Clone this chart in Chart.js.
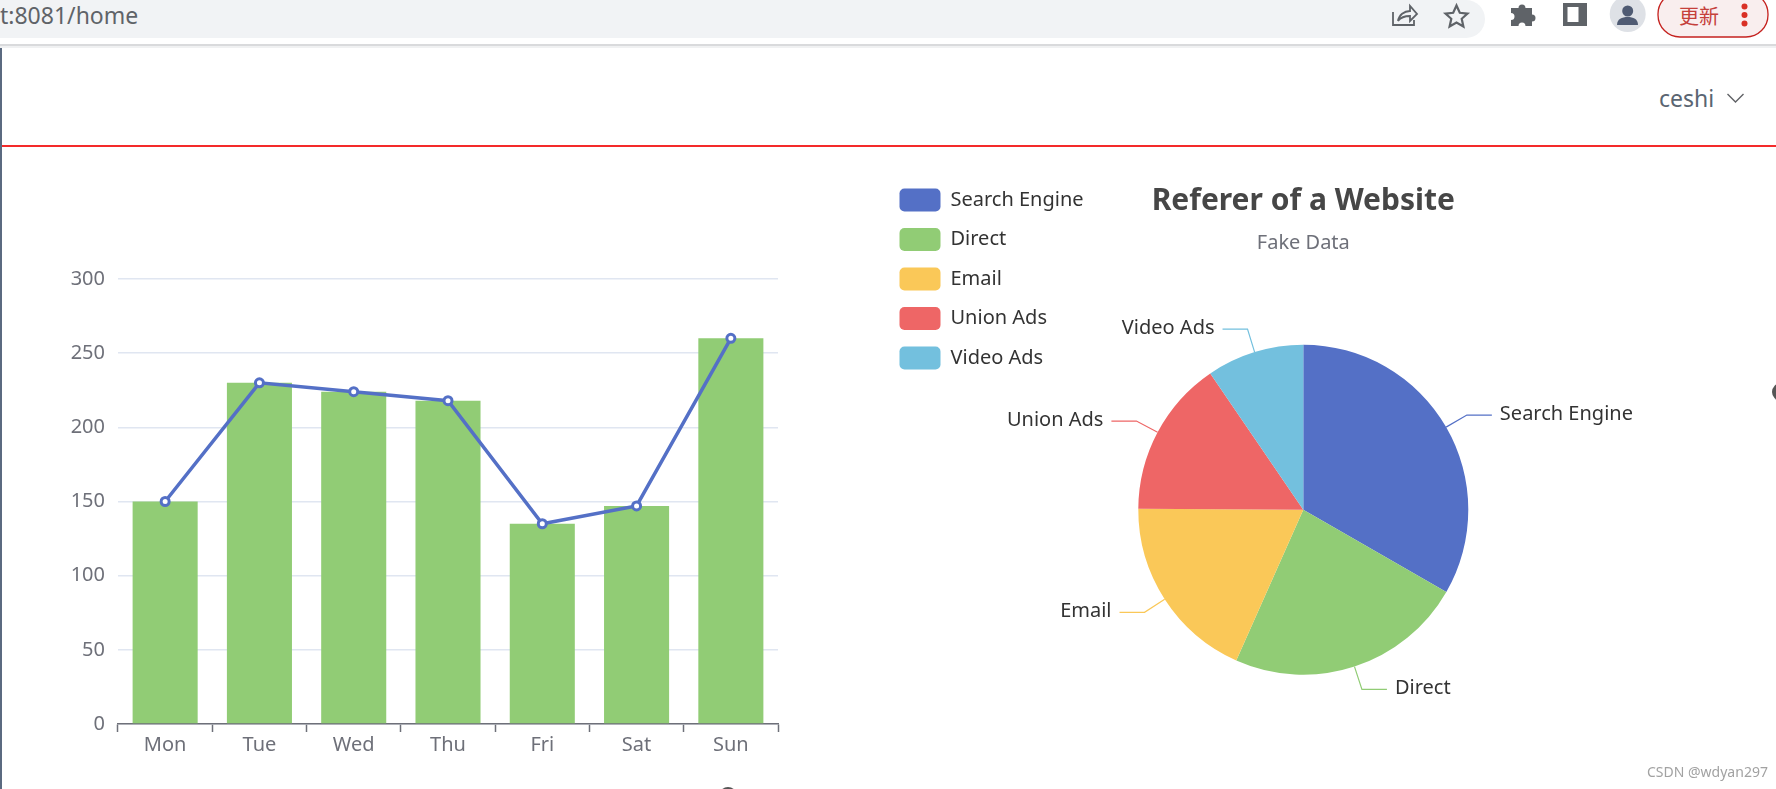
<!DOCTYPE html>
<html><head><meta charset="utf-8">
<script src="https://cdn.jsdelivr.net/npm/chart.js@4"></script>
<style>
html,body{margin:0;padding:0;background:#fff;overflow:hidden}
#page{position:relative;width:1776px;height:789px;overflow:hidden;font-family:"Noto Sans",sans-serif}
.abs{position:absolute}
canvas{position:absolute;display:block}
</style></head><body>
<div id="page">
  <div class="abs" style="left:0;top:0;width:1485px;height:38px;background:#f1f3f5;border-radius:0 19px 19px 0"></div>
  <div class="abs" style="left:0;top:-3px;font-size:23px;line-height:36px;color:#5f6368;white-space:nowrap">t:8081/home</div>
  <div class="abs" style="left:0;top:44px;width:1776px;height:2px;background:#d9dadc"></div>
  <div class="abs" style="left:0;top:46px;width:1776px;height:2px;background:#f0f1f2"></div>
  <div class="abs" style="left:0;top:48px;width:2px;height:741px;background:#5b6a80"></div>
  <div class="abs" style="left:2px;top:145px;width:1774px;height:2px;background:#f42a2a"></div>
  <svg class="abs" style="left:1376px;top:0" width="400" height="48" viewBox="0 0 400 48">
    <g fill="none" stroke="#5f6368" stroke-width="1.8">
      <path d="M17 12v13h21v-5"/><path d="M22 21c1-6 6-10 12-10V6l7 8-7 7v-5c-5 0-9 1-12 5z"/>
      <path d="M80.500 5.500l3.300 7.300 7.700.8-5.800 5.200 1.700 7.700-6.900-4-6.900 4 1.700-7.700-5.800-5.200 7.700-.8z" stroke-width="2.200"/>
    </g>
    <path fill="#5f6368" d="M135 8h7.500a3.500 3.500 0 0 1 7 0h6.500v6.500a3.500 3.500 0 0 1 0 7V26h-6.500a3.500 3.500 0 0 0-7 0H135v-6a3.500 3.500 0 0 0 0-7z"/>
    <path fill="#5f6368" fill-rule="evenodd" d="M187 3h24v23h-24zM191.500 7v15h11V7z"/>
    <circle cx="251.700" cy="14" r="18" fill="#dee1e6"/>
    <circle cx="251.700" cy="11" r="5.500" fill="#4f5b73"/>
    <path fill="#4f5b73" d="M241 25c0-6 5-8 10.700-8s10.300 2 10.300 8z"/>
    <rect x="282" y="-8" width="110" height="45" rx="22" fill="#f9eeee" stroke="#c5221f" stroke-width="1.300"/>
    <circle cx="368.500" cy="6.500" r="3" fill="#d93025"/><circle cx="368.500" cy="15" r="3" fill="#d93025"/><circle cx="368.500" cy="23.500" r="3" fill="#d93025"/>
    </svg>
  <div class="abs" style="left:1679px;top:1px;font-family:'Noto Sans CJK SC';font-size:20px;line-height:30px;color:#c5403a">更新</div>
  <div class="abs" style="left:1659px;top:82px;font-size:23px;line-height:32px;color:#5a6572">ceshi</div>
  <svg class="abs" style="left:1725px;top:90px" width="22" height="16"><path d="M2.500 4l8 8 8-8" fill="none" stroke="#606266" stroke-width="1.400"/></svg>
  <div class="abs" style="left:1772px;top:382.500px;width:18px;height:18px;border-radius:50%;background:#555"></div>
  <div class="abs" style="left:719px;top:787px;width:18px;height:18px;border-radius:50%;background:#555"></div>
  <canvas id="bars" width="800" height="539" style="left:0;top:250px;width:800px;height:539px"></canvas>
  <canvas id="pie" width="846" height="620" style="left:883px;top:160px;width:846px;height:620px"></canvas>
  <div class="abs" style="left:1647px;top:763px;font-size:14px;line-height:18px;color:#a2a2a2;white-space:nowrap">CSDN @wdyan297</div>
</div>
<script>
const categories = ['Mon','Tue','Wed','Thu','Fri','Sat','Sun'];
const barValues = [150,230,224,218,135,147,260];
const lineValues = [150,230,224,218,135,147,260];
const yTicks = [0,50,100,150,200,250,300];
const pieLabels = ['Search Engine','Direct','Email','Union Ads','Video Ads'];
const pieValues = [1048,735,580,484,300];
const pieColors = ['#5470c6','#91cc75','#fac858','#ee6666','#73c0de'];
const FONT = '"Noto Sans", sans-serif';
Chart.defaults.font.family = FONT;
Chart.defaults.animation = false;

new Chart(document.getElementById('bars'), {
  data: {
    labels: categories,
    datasets: [
      {type:'line', data: lineValues, order: 0, borderColor: pieColors[0], borderWidth: 3.5, tension: 0,
       pointRadius: 4, pointBorderWidth: 3, pointBackgroundColor: '#fff', pointBorderColor: pieColors[0]},
      {type:'bar', data: barValues, order: 1, backgroundColor: pieColors[1], barPercentage: 0.69, categoryPercentage: 1}
    ]
  },
  options: {
    responsive: false, devicePixelRatio: 1,
    layout: {padding: {top: 29, right: 22, left: 0, bottom: 0}},
    plugins: {legend: {display: false}, tooltip: {enabled: false}},
    scales: {
      x: {
        offset: true,
        grid: {offset: true, drawOnChartArea: false, drawTicks: true, tickLength: 8, tickColor: '#6E7079', tickWidth: 1.5},
        border: {color: '#6E7079', width: 1.5},
        ticks: {color: '#6E7079', font: {size: 20}, padding: 1, maxRotation: 0, autoSkip: false},
        afterFit: s => { s.height = 65; }
      },
      y: {
        min: 0, max: 300,
        afterBuildTicks: s => { s.ticks = yTicks.map(v => ({value: v})); },
        grid: {color: '#E0E6F1', lineWidth: 1.5, drawTicks: false},
        border: {display: false},
        ticks: {color: '#6E7079', font: {size: 20}, padding: 13},
        afterFit: s => { s.width = 118; }
      }
    }
  }
});

const leaderLabels = {
  id: 'leaderLabels',
  afterDatasetsDraw(chart) {
    const ctx = chart.ctx, arcs = chart.getDatasetMeta(0).data;
    ctx.save();
    ctx.font = '20px ' + FONT;
    ctx.textBaseline = 'middle';
    ctx.lineWidth = 1.2;
    arcs.forEach((a, i) => {
      const mid = (a.startAngle + a.endAngle) / 2, c = Math.cos(mid), s = Math.sin(mid);
      const r = a.outerRadius, r2 = r + 24;
      const x1 = a.x + r * c, y1 = a.y + r * s, x2 = a.x + r2 * c, y2 = a.y + r2 * s;
      const dir = c >= 0 ? 1 : -1, x3 = x2 + dir * 25;
      ctx.strokeStyle = pieColors[i];
      ctx.beginPath(); ctx.moveTo(x1, y1); ctx.lineTo(x2, y2); ctx.lineTo(x3, y2); ctx.stroke();
      ctx.fillStyle = '#333';
      ctx.textAlign = dir > 0 ? 'left' : 'right';
      ctx.fillText(pieLabels[i], x3 + dir * 8, y2 - 1);
    });
    ctx.restore();
  }
};

new Chart(document.getElementById('pie'), {
  type: 'pie',
  plugins: [leaderLabels],
  data: {labels: pieLabels, datasets: [{data: pieValues, backgroundColor: pieColors, borderWidth: 0, radius: 165}]},
  options: {
    responsive: false, devicePixelRatio: 1,
    layout: {padding: {right: 216, bottom: 16, top: 12, left: 0}},
    plugins: {
      tooltip: {enabled: false},
      title: {display: true, fullSize: false, text: 'Referer of a Website', color: '#464646', font: {size: 30, weight: 'bold'}, padding: {top: 11.5, bottom: 12}},
      subtitle: {display: true, fullSize: false, text: 'Fake Data', color: '#6E7079', font: {size: 20, weight: 'normal'}, padding: {bottom: 0}},
      legend: {
        position: 'left', align: 'start',
        labels: {
          boxWidth: 41, boxHeight: 23, padding: 16.500, color: '#333', font: {size: 20},
          useBorderRadius: true, borderRadius: 5
        }
      }
    }
  }
});
</script>
</body></html>
